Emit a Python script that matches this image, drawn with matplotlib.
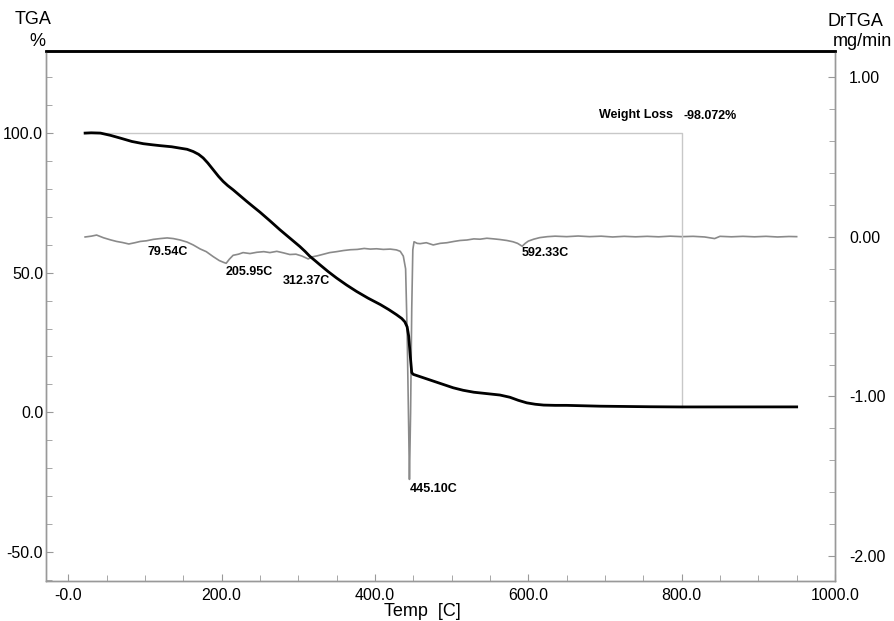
import matplotlib
matplotlib.use("Agg")
import matplotlib.pyplot as plt
from matplotlib.ticker import MultipleLocator, FormatStrFormatter

plt.rcParams['font.family'] = ['Liberation Sans', 'DejaVu Sans']

# TGA curve (weight %, left axis)
tga_temp = [22, 30, 42, 55, 68, 83, 98, 110, 120, 135, 146, 155, 163, 170, 176, 182, 189, 196, 202,
            208, 215, 224, 233, 241, 250, 263, 276, 289, 302, 309, 315, 322, 328, 339, 350, 363, 376,
            391, 407, 418, 428, 435, 439, 442, 444, 446, 448, 450, 463, 476, 489, 502, 515, 529, 546,
            563, 576, 587, 598, 609, 620, 635, 650, 694, 759, 800, 950]
tga_val = [100.0, 100.1, 100.0, 99.2, 98.2, 97.0, 96.2, 95.8, 95.5, 95.1, 94.6, 94.2, 93.4, 92.4,
           91.1, 89.3, 86.9, 84.5, 82.7, 81.2, 79.7, 77.6, 75.5, 73.7, 71.7, 68.6, 65.4, 62.4, 59.4,
           57.6, 55.9, 54.3, 52.9, 50.4, 48.1, 45.6, 43.3, 40.9, 38.6, 36.8, 35.0, 33.6, 32.4, 30.6,
           27.3, 20.5, 14.2, 13.6, 12.4, 11.2, 10.0, 8.8, 7.9, 7.2, 6.7, 6.2, 5.4, 4.3, 3.4, 2.9, 2.6,
           2.5, 2.5, 2.2, 2.0, 1.93, 1.95]

# DrTGA curve (mg/min, right axis)
dr_temp = [22, 30, 37, 46, 55, 63, 71, 79, 87, 94, 102, 111, 120, 129, 137, 146, 155, 163, 172, 180,
           189, 197, 203, 206, 210, 215, 222, 228, 237, 246, 255, 263, 272, 281, 289, 297, 305, 313,
           318, 325, 333, 341, 350, 359, 368, 377, 386, 394, 402, 411, 420, 428, 433, 437, 440, 442,
           444, 445, 446.5, 448, 449.4, 451, 455, 459, 467, 476, 485, 494, 503, 511, 520, 529, 537,
           546, 555, 563, 572, 580, 586, 592, 596, 600, 607, 615, 625, 635, 650, 665, 680, 695, 710,
           725, 740, 755, 770, 785, 800, 815, 830, 843, 850, 865, 880, 895, 910, 925, 940, 950]
dr_val = [0.0, 0.005, 0.012, -0.005, -0.018, -0.028, -0.035, -0.044, -0.036, -0.028, -0.024, -0.015,
          -0.010, -0.006, -0.010, -0.019, -0.032, -0.050, -0.075, -0.092, -0.123, -0.148, -0.160,
          -0.165, -0.140, -0.115, -0.108, -0.098, -0.104, -0.096, -0.092, -0.098, -0.090, -0.100,
          -0.110, -0.108, -0.120, -0.138, -0.125, -0.118, -0.108, -0.098, -0.092, -0.085, -0.080,
          -0.078, -0.072, -0.076, -0.074, -0.078, -0.076, -0.081, -0.090, -0.120, -0.200, -0.600,
          -1.200, -1.52, -1.10, -0.45, -0.08, -0.03, -0.040, -0.042, -0.036, -0.050, -0.040, -0.036,
          -0.028, -0.022, -0.019, -0.012, -0.014, -0.008, -0.012, -0.016, -0.022, -0.030, -0.040,
          -0.058, -0.040, -0.026, -0.014, -0.004, 0.002, 0.005, 0.002, 0.006, 0.002, 0.005, 0.0,
          0.004, 0.001, 0.004, 0.001, 0.005, 0.002, 0.004, 0.0, -0.01, 0.004, 0.001, 0.004, 0.001,
          0.004, 0.0, 0.003, 0.002]

# peak labels
peak_text = ['79.54C', '205.95C', '312.37C', '445.10C', '592.33C']
peak_text_x = [104, 204.7, 280, 445, 591.5]
peak_text_y = [-0.092, -0.217, -0.275, -1.58, -0.103]

# weight loss step
wl_start, wl_end = 22, 800
wl_top, wl_loss = 100.0, 98.072

x_ticks = [0, 200, 400, 600, 800, 1000]
x_labels = ['-0.0', '200.0', '400.0', '600.0', '800.0', '1000.0']

grey = '#8a8a8a'

fig = plt.figure(figsize=(8.94, 6.21), dpi=100)
ax = fig.add_axes([46/894, 40/621, (835-46)/894, (581-51)/621])
ax2 = ax.twinx()
ax.set_zorder(ax2.get_zorder() + 1)
ax.patch.set_visible(False)

# weight loss box
ax.plot([wl_start, wl_end, wl_end], [wl_top, wl_top, wl_top - wl_loss], color='#c8c8c8', lw=1.0)
ax.plot(tga_temp, tga_val, color='black', lw=2.0)
ax2.plot(dr_temp, dr_val, color=grey, lw=1.2)

for tx, ty, s in zip(peak_text_x, peak_text_y, peak_text):
    ax2.text(tx, ty, s, fontsize=9, fontweight='bold', ha='left', va='center')
ax.text(692.7, 106.5, 'Weight Loss', fontsize=9, fontweight='bold', ha='left', va='center')
ax.text(803, 106, '-%.3f%%' % wl_loss, fontsize=9, fontweight='bold', ha='left', va='center')

ax.set_xlim(-29, 1000)
ax.set_ylim(-60.4, 129.4)
ax2.set_ylim(-2.157, 1.166)

ax.set_xticks(x_ticks)
ax.set_xticklabels(x_labels)
ax.xaxis.set_minor_locator(MultipleLocator(50))
ax.yaxis.set_major_locator(MultipleLocator(50))
ax.yaxis.set_minor_locator(MultipleLocator(10))
ax.yaxis.set_major_formatter(FormatStrFormatter('%.1f'))
ax2.yaxis.set_major_locator(MultipleLocator(1))
ax2.yaxis.set_minor_locator(MultipleLocator(0.2))
ax2.yaxis.set_major_formatter(FormatStrFormatter('%.2f'))

for a in (ax, ax2):
    for side in ('left', 'right', 'bottom'):
        a.spines[side].set_color('#999999')
        a.spines[side].set_linewidth(1.0)
    a.spines['top'].set_color('black')
    a.spines['top'].set_linewidth(1.8)
    a.tick_params(which='both', direction='in', color='#999999', labelsize=11.5)
    a.tick_params(which='major', length=5)
    a.tick_params(which='minor', length=4)
ax.tick_params(axis='y', pad=2)
ax.tick_params(axis='x', pad=5)
ax2.tick_params(axis='y', pad=10)

fig.text(33/894, 1 - 20/621, 'TGA', fontsize=13, ha='center', va='center')
fig.text(37/894, 1 - 42/621, '%', fontsize=13, ha='center', va='center')
fig.text(855/894, 1 - 22/621, 'DrTGA', fontsize=13, ha='center', va='center')
fig.text(862/894, 1 - 42/621, 'mg/min', fontsize=13, ha='center', va='center')
fig.text(422/894, 1 - 612/621, 'Temp  [C]', fontsize=13, ha='center', va='center')

fig.savefig('out.png', dpi=100)
